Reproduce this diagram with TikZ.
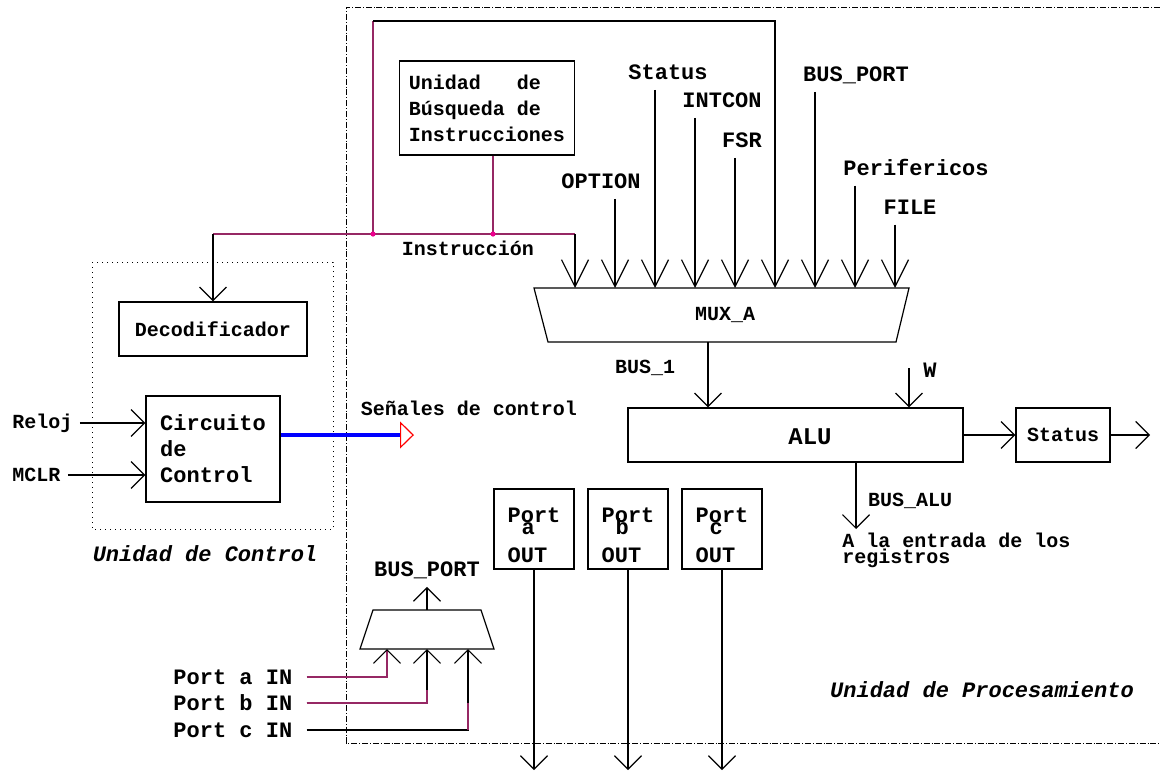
\documentclass[tikz,border=0pt]{standalone}
\usepackage{fontspec}
\setmonofont{Liberation Mono}
\usetikzlibrary{arrows.meta,calc}
\definecolor{instr}{RGB}{150,40,100}

\begin{document}
\begin{tikzpicture}[
    x=0.5pt, y=-0.5pt,
    font=\ttfamily\bfseries\fontsize{10}{13}\selectfont,
    big/.style={font=\ttfamily\bfseries\fontsize{11}{13}\selectfont},
    blk/.style={draw, line width=0.6pt, inner sep=0pt},
    txt/.style={inner sep=0pt},
    wire/.style={line width=0.6pt},
    sig/.style={wire, -{Straight Barb[length=6.75pt,width=13.5pt]}},
    busin/.style={wire, -{Straight Barb[length=13.5pt,width=13.5pt]}},
    ins/.style={wire, draw=instr},
    unit/.style={txt, font=\ttfamily\bfseries\itshape\fontsize{11}{13}\selectfont}
]
\useasboundingbox (0,0) rectangle (1160,772);

% unidades
\draw[densely dash dot, line width=0.5pt] (1160,7) -- (346,7) -- (346,743) -- (1160,743);
\node[unit] (uproc) at (982,690) {Unidad de Procesamiento};
\draw[dotted, line width=0.5pt] (92,262) rectangle (333,529);
\node[unit] (uctrl) at (205,554) {Unidad de Control};

% bloques
\node[blk, minimum width=87.5pt, minimum height=47pt, align=left] (fetch) at (487,108) {\makebox[66pt][l]{Unidad\hfill de}\\Búsqueda de\\Instrucciones};
\node[blk, minimum width=94pt, minimum height=27pt] (dec) at (213,329) {Decodificador};
\node[blk, big, minimum width=67pt, minimum height=53pt, align=left] (circ) at (213,449) {Circuito\\de\\Control};
\node[blk, minimum width=167.5pt, minimum height=27pt] (alu) at (795.5,435) {};
\node[txt, font=\ttfamily\bfseries\fontsize{12}{14}\selectfont] (alutxt) at (810,437) {ALU};
\node[blk, minimum width=47pt, minimum height=27pt] (status) at (1063,435) {Status};
\foreach \p/\x in {a/534,b/628,c/722} {
  \node[blk, minimum width=40pt, minimum height=40pt] (port\p) at (\x,529) {};
  \node[txt, big, align=left] (port\p txt) at (\x,535) {Port\\[-7pt]\hspace*{7pt}\p\\[1pt]OUT};
}

% MUX_A
\draw[wire] (534,288) -- (909,288) -- (896,342) -- (548,342) -- cycle;
\node[txt] (muxa) at (725,315) {MUX\_A};
\foreach \i/\x in {1/575,2/615,3/655,4/695,5/735,6/775,7/815,8/855,9/895}
  \coordinate (m\i) at (\x,288);

\node[txt, big] (option) at (601,181) {OPTION};
\node[txt, big] (status1) at (668,72) {Status};
\node[txt, big] (intcon) at (722,100) {INTCON};
\node[txt, big] (fsr) at (742,140) {FSR};
\node[txt, big] (busport1) at (856,75) {BUS\_PORT};
\node[txt, big] (perif) at (916,167) {Perifericos};
\node[txt, big] (file) at (910,207) {FILE};

\draw[busin] ([yshift=-5pt]option.south -| m2) -- (m2);
\draw[busin] ([yshift=-5pt]status1.south -| m3) -- (m3);
\draw[busin] ([yshift=-5pt]intcon.south -| m4) -- (m4);
\draw[busin] ([yshift=-5pt]fsr.south -| m5) -- (m5);
\draw[busin] ([yshift=-4pt]busport1.south -| m7) -- (m7);
\draw[busin] ([yshift=-5pt]perif.south -| m8) -- (m8);
\draw[busin] ([yshift=-5pt]file.south -| m9) -- (m9);

% instruccion
\coordinate (j1) at (373,234);
\coordinate (j2) at (493,234);
\coordinate (loop) at (373,21);
\draw[ins] (j2 |- fetch.south) -- (j2);
\draw[ins] (dec.north |- j1) -- (m1 |- j1);
\draw[sig] (dec.north |- j1) -- (dec.north);
\draw[busin] (m1 |- j1) -- (m1);
\draw[ins] (j1) -- (loop);
\draw[busin] (loop) -| (m6);
\fill[magenta] (j1) circle (1.3pt) (j2) circle (1.3pt);
\node[txt] (instr) at (468,248) {Instrucción};

% ALU
\coordinate (mxo) at (708,342);
\draw[sig] (mxo) -- (mxo |- alu.north);
\node[txt] (bus1) at (645,368) {BUS\_1};
\node[txt, big] (wreg) at (930,370) {W};
\coordinate (win) at (909,368);
\draw[sig] (win) -- (win |- alu.north);
\draw[sig] (alu.east) -- (status.west);
\coordinate (stout) at (1150,435);
\draw[sig] (status.east) -- (stout);
\coordinate (aluout) at (856,529);
\draw[sig] (aluout |- alu.south) -- (aluout);
\node[txt] (busalu) at (910,501) {BUS\_ALU};
\node[txt, anchor=west, align=left, font=\ttfamily\bfseries\fontsize{10}{8}\selectfont] (regs) at (842,550) {A la entrada de los\\registros};

% control
\node[txt] (senal) at (469,408) {Señales de control};
\coordinate (ctl) at (414,435);
\draw[line width=2pt, blue, -{Triangle[open, length=7pt, width=13.5pt, line width=0.6pt, color=red]}] (circ.east |- ctl) -- (ctl);
\node[txt, anchor=west] (reloj) at (12,423) {Reloj};
\node[txt, anchor=west] (mclr) at (12,475) {MCLR};
\draw[sig] ([xshift=3.5pt]reloj.east) -- (reloj.east -| circ.west);
\draw[sig] ([xshift=3.5pt]mclr.east) -- (mclr.east -| circ.west);

% puertos
\draw[wire] (373,610) -- (481,610) -- (494,649) -- (360,649) -- cycle;
\coordinate (smo) at (427,610);
\node[txt, big] (busport2) at (427,570) {BUS\_PORT};
\draw[sig] (smo) -- ([yshift=-4pt]busport2.south);
\foreach \i/\x in {1/387,2/427,3/468}
  \coordinate (s\i) at (\x,649);
\node[txt, big, anchor=west] (pain) at (173,677) {Port a IN};
\node[txt, big, anchor=west] (pbin) at (173,703) {Port b IN};
\node[txt, big, anchor=west] (pcin) at (173,730) {Port c IN};
\draw[ins, -{Straight Barb[length=6.75pt,width=13.5pt,color=black]}] ([xshift=7pt]pain.east) -| (s1);
\draw[sig] ([xshift=7pt]pbin.east) -| (s2);
\draw[ins] ([xshift=7pt]pbin.east) -- (s2 |- pbin.east) -- ++(0,-13);
\draw[sig] ([xshift=7pt]pcin.east) -| (s3);
\draw[ins] (s3 |- pcin.east) -- (s3 |- pbin.east);
\foreach \p/\x in {a/534,b/628,c/722} {
  \coordinate (out\p) at (\x,770);
  \draw[sig] (port\p.south) -- (out\p);
}

\end{tikzpicture}
\end{document}
